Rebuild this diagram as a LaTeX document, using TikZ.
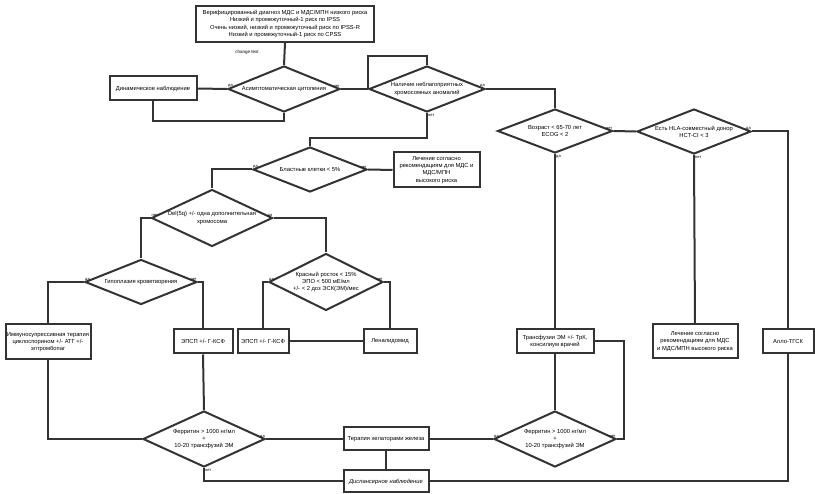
\documentclass[tikz,border=0pt]{standalone}
\usepackage{fontspec}
\setmainfont{Liberation Sans}
\usetikzlibrary{shapes.geometric}
\newcommand{\mdsfont}{\fontsize{5.8}{7.2}\selectfont}
\newcommand{\mdsbox}[5] {\node at (#1) (#2) [mdsbox, minimum width=#3pt, minimum height=#4pt] {#5};}
\newcommand{\mdsdecision}[5] {\node at (#1) (#2) [mdsdecision, minimum width=#3pt, minimum height=#4pt] {}; \node at (#2) [mdstext] {#5};}
\newcommand{\mdsanswer}[3] {\node [mdslabel, #2] at (#1) {#3};}
\tikzset{
  mdsbox/.style={rectangle, draw=black!80, line width=2pt, fill=white, align=center, inner sep=1pt, font=\mdsfont},
  mdsdecision/.style={diamond, draw=black!80, line width=2pt, fill=white, inner sep=0pt},
  mdstext/.style={align=center, inner sep=0pt, font=\mdsfont},
  mdsline/.style={draw=black!80, line width=2pt},
  mdslabel/.style={font=\fontsize{4}{5}\selectfont, inner sep=1pt},
}

\begin{document}
\begin{tikzpicture}[x=1pt, y=-1pt]
\useasboundingbox (0,0) rectangle (815,494);

\mdsbox {285,24} {top} {178} {36} {Верифицированный диагноз МДС и МДС/МПН низкого риска\\Низкий и промежуточный-1 риск по IPSS\\Очень низкий, низкий и промежуточный риск по IPSS-R\\Низкий и промежуточный-1 риск по CPSS};
\node at (247,52) (changetext) [font=\fontsize{4.5}{5}\selectfont, inner sep=0pt] {change text};
\mdsbox {153,88.5} {dyn} {87} {24} {Динамическое наблюдение};
\mdsdecision {284,89} {asym} {112} {46} {Асимптоматическая цитопения};
\mdsdecision {427,89} {chrom} {116} {46} {Наличие неблагоприятных\\хромосомных аномалий};
\mdsdecision {555,131} {age} {115} {44} {Возраст < 65-70 лет\\ECOG < 2};
\mdsdecision {694,131.5} {donor} {114} {45} {Есть HLA-совместный донор\\HCT-CI < 3};
\mdsdecision {310,169.5} {blast} {114} {45} {Бластные клетки < 5\%};
\mdsbox {436.5,170} {hiriskA} {86} {35} {Лечение согласно\\рекомендациям для МДС и\\МДС/МПН\\высокого риска};
\mdsdecision {212,218} {delq} {121} {57} {Del(5q) +/- одна дополнительная\\хромосома};
\mdsdecision {141,282} {hypo} {112} {45} {Гипоплазия кроветворения};
\mdsdecision {326,282} {red} {114} {57} {Красный росток < 15\%\\ЭПО < 500 мЕ/мл\\+/- < 2 доз ЭСК(ЭМ)/мес};
\mdsbox {48,342} {ist} {85} {35} {Иммуносупрессивная терапия\\циклоспорином +/- АТГ +/-\\элтромбопаг};
\mdsbox {203,341.5} {epoA} {59} {24} {ЭПСП +/- Г-КСФ};
\mdsbox {263,341.5} {epoB} {51} {24} {ЭПСП +/- Г-КСФ};
\mdsbox {390,341.5} {lena} {53} {24} {Леналидомид};
\mdsbox {555,341.5} {transf} {77} {24} {Трансфузии ЭМ +/- ТрК,\\консилиум врачей};
\mdsbox {695,341.5} {hiriskB} {85} {34} {Лечение согласно\\рекомендациям для МДС\\и МДС/МПН высокого риска};
\mdsbox {788,341.5} {allo} {51} {24} {Алло-ТГСК};
\mdsdecision {204,439} {ferrA} {122} {56} {Ферритин > 1000 нг/мл\\+\\10-20 трансфузий ЭМ};
\mdsdecision {555,439} {ferrB} {122} {56} {Ферритин > 1000 нг/мл\\+\\10-20 трансфузий ЭМ};
\mdsbox {386,439} {chel} {85} {23} {Терапия хелаторами железа};
\mdsbox {386,481.5} {disp} {85} {22} {\itshape Диспансерное наблюдение};

\draw [mdsline] (top.south) -- (asym.north);
\draw [mdsline] (asym.west) -- (dyn.east);
\draw [mdsline] (dyn.south) -- ++(0,20) -| (asym.south);
\draw [mdsline] (asym.east) -- (chrom.west);
\draw [mdsline] (chrom.west) -- ++(0,-33) -| (chrom.north);
\draw [mdsline] (chrom.east) -| (age.north);
\draw [mdsline] (chrom.south) -- ++(0,25) -| (blast.north);
\draw [mdsline] (age.east) -- (donor.west);
\draw [mdsline] (age.south) -- (transf.north);
\draw [mdsline] (donor.south) -- (hiriskB.north);
\draw [mdsline] (donor.east) -| (allo.north);
\draw [mdsline] (blast.east) -- (hiriskA.west);
\draw [mdsline] (blast.west) -| (delq.north);
\draw [mdsline] (delq.west) -| (hypo.north);
\draw [mdsline] (delq.east) -| (red.north);
\draw [mdsline] (hypo.west) -| (ist.north);
\draw [mdsline] (hypo.east) -| (epoA.north);
\draw [mdsline] (red.west) -| (epoB.north);
\draw [mdsline] (red.east) -| (lena.north);
\draw [mdsline] (epoB.east) -- (lena.west);
\draw [mdsline] (ist.south) |- (ferrA.west);
\draw [mdsline] (epoA.south) -- (ferrA.north);
\draw [mdsline] (ferrA.east) -- (chel.west);
\draw [mdsline] (ferrA.south) |- (disp.west);
\draw [mdsline] (chel.south) -- (disp.north);
\draw [mdsline] (ferrB.west) -- (chel.east);
\draw [mdsline] (ferrB.east) -- ++(7,0) |- (transf.east);
\draw [mdsline] (transf.south) -- (ferrB.north);
\draw [mdsline] (allo.south) |- (disp.east);

\mdsanswer {asym.west} {above right} {да};
\mdsanswer {asym.east} {above left} {нет};
\mdsanswer {chrom.east} {above left} {да};
\mdsanswer {chrom.south} {below right} {нет};
\mdsanswer {age.east} {above left} {нет};
\mdsanswer {age.south} {below right} {да};
\mdsanswer {donor.east} {above left} {да};
\mdsanswer {donor.south} {below right} {нет};
\mdsanswer {blast.west} {above right} {да};
\mdsanswer {blast.east} {above left} {нет};
\mdsanswer {delq.west} {above right} {нет};
\mdsanswer {delq.east} {above left} {да};
\mdsanswer {hypo.west} {above right} {да};
\mdsanswer {hypo.east} {above left} {нет};
\mdsanswer {red.west} {above right} {да};
\mdsanswer {red.east} {above left} {нет};
\mdsanswer {ferrA.east} {above left} {да};
\mdsanswer {ferrA.south} {below right} {нет};
\mdsanswer {ferrB.west} {above right} {да};
\mdsanswer {ferrB.east} {above left} {нет};
\end{tikzpicture}
\end{document}
